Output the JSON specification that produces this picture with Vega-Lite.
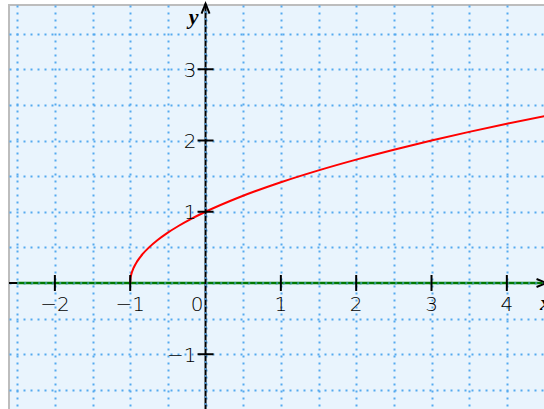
{
  "$schema": "https://vega.github.io/schema/vega-lite/v6.json",
  "width": 538,
  "height": 407,
  "padding": {"left": 9, "top": 5, "right": 0, "bottom": 0},
  "autosize": {"type": "none"},
  "background": "white",
  "config": {
    "view": {"fill": "#e9f4fd", "stroke": "#bdbdbd", "strokeWidth": 2},
    "text": {"font": "DejaVu Sans", "fontSize": 20, "fontWeight": 200, "color": "#000000"}
  },
  "datasets": {
    "xAxisLine": [{"x": -2.609, "x2": 4.533, "y": 0}],
    "xAxisGreen": [{"x": -2.5, "x2": 4.533, "y": 0}],
    "yAxisLine": [{"x": 0, "y": -1.811, "y2": 3.92}],
    "curve": [
      {"x": -1, "y": 0},
      {"x": -0.9975, "y": 0.05},
      {"x": -0.99, "y": 0.1},
      {"x": -0.9775, "y": 0.15},
      {"x": -0.96, "y": 0.2},
      {"x": -0.9375, "y": 0.25},
      {"x": -0.91, "y": 0.3},
      {"x": -0.84, "y": 0.4},
      {"x": -0.75, "y": 0.5},
      {"x": -0.64, "y": 0.6},
      {"x": -0.51, "y": 0.7},
      {"x": -0.36, "y": 0.8},
      {"x": -0.19, "y": 0.9},
      {"x": 0, "y": 1},
      {"x": 0.44, "y": 1.2},
      {"x": 1, "y": 1.414},
      {"x": 1.5, "y": 1.581},
      {"x": 2, "y": 1.732},
      {"x": 2.5, "y": 1.871},
      {"x": 3, "y": 2},
      {"x": 3.5, "y": 2.121},
      {"x": 4, "y": 2.236},
      {"x": 4.533, "y": 2.35}
    ],
    "xTicks": [
      {"x": -2, "y": 0, "label": "−2"},
      {"x": -1, "y": 0, "label": "−1"},
      {"x": 1, "y": 0, "label": "1"},
      {"x": 2, "y": 0, "label": "2"},
      {"x": 3, "y": 0, "label": "3"},
      {"x": 4, "y": 0, "label": "4"}
    ],
    "yTicks": [
      {"x": 0, "y": -1, "label": "−1"},
      {"x": 0, "y": 1, "label": "1"},
      {"x": 0, "y": 2, "label": "2"},
      {"x": 0, "y": 3, "label": "3"}
    ],
    "origin": [{"x": 0, "y": 0, "label": "0"}],
    "yArrow": [{"x": 0, "y": 3.922}],
    "xArrow": [{"x": 4.527, "y": 0}],
    "yName": [{"x": 0, "y": 3.635, "label": "y"}],
    "xName": [{"x": 4.44, "y": 0, "label": "x"}]
  },
  "encoding": {
    "x": {
      "field": "x",
      "type": "quantitative",
      "scale": {"domain": [-2.609, 4.533], "nice": false, "zero": false},
      "axis": {
        "orient": "bottom",
        "values": [-2.5, -2, -1.5, -1, -0.5, 0, 0.5, 1, 1.5, 2, 2.5, 3, 3.5, 4, 4.5],
        "grid": true,
        "gridColor": "#55a9ef",
        "gridDash": [2, 5],
        "gridWidth": 2,
        "labels": false,
        "ticks": false,
        "domain": false,
        "title": null
      }
    },
    "y": {
      "field": "y",
      "type": "quantitative",
      "scale": {"domain": [-1.811, 3.902], "nice": false, "zero": false},
      "axis": {
        "orient": "left",
        "values": [-1.5, -1, -0.5, 0, 0.5, 1, 1.5, 2, 2.5, 3, 3.5],
        "grid": true,
        "gridColor": "#55a9ef",
        "gridDash": [2, 5],
        "gridWidth": 2,
        "labels": false,
        "ticks": false,
        "domain": false,
        "title": null
      }
    }
  },
  "layer": [
    {
      "data": {"name": "xAxisLine"},
      "mark": {"type": "rule", "color": "black", "strokeWidth": 2},
      "encoding": {"x2": {"field": "x2"}}
    },
    {
      "data": {"name": "xAxisGreen"},
      "mark": {"type": "rule", "color": "#007a00", "strokeWidth": 2.5},
      "encoding": {"x2": {"field": "x2"}}
    },
    {
      "data": {"name": "curve"},
      "mark": {"type": "line", "color": "#ff0000", "strokeWidth": 2, "interpolate": "monotone"},
      "encoding": {"order": {"field": "x", "type": "quantitative"}}
    },
    {
      "data": {"name": "yAxisLine"},
      "mark": {"type": "rule", "color": "black", "strokeWidth": 2},
      "encoding": {"y2": {"field": "y2"}}
    },
    {
      "data": {"name": "yAxisLine"},
      "mark": {"type": "rule", "color": "#55a9ef", "strokeWidth": 2, "strokeDash": [2, 5], "opacity": 0.8},
      "encoding": {"y2": {"field": "y2"}}
    },
    {
      "data": {"name": "xAxisGreen"},
      "mark": {"type": "rule", "color": "#55a9ef", "strokeWidth": 2, "strokeDash": [2, 5], "opacity": 0.6},
      "encoding": {"x2": {"field": "x2"}}
    },
    {
      "data": {"name": "xTicks"},
      "mark": {"type": "tick", "orient": "vertical", "color": "black", "size": 16, "thickness": 2, "opacity": 1}
    },
    {
      "data": {"name": "yTicks"},
      "mark": {"type": "tick", "orient": "horizontal", "color": "black", "size": 16, "thickness": 2, "opacity": 1}
    },
    {
      "data": {"name": "yArrow"},
      "mark": {"type": "point", "shape": "M-0.4,1L0,0L0.4,1", "size": 400, "filled": false, "stroke": "black", "strokeWidth": 2, "opacity": 1}
    },
    {
      "data": {"name": "xArrow"},
      "mark": {"type": "point", "shape": "M-1,-0.4L0,0L-1,0.4", "size": 400, "filled": false, "stroke": "black", "strokeWidth": 2, "opacity": 1}
    },
    {
      "data": {"name": "xTicks"},
      "mark": {"type": "text", "align": "center", "baseline": "alphabetic", "dy": 28},
      "encoding": {"text": {"field": "label"}}
    },
    {
      "data": {"name": "origin"},
      "mark": {"type": "text", "align": "right", "baseline": "alphabetic", "dx": -2, "dy": 28},
      "encoding": {"text": {"field": "label"}}
    },
    {
      "data": {"name": "yTicks"},
      "mark": {"type": "text", "align": "right", "baseline": "alphabetic", "dx": -9, "dy": 7.5},
      "encoding": {"text": {"field": "label"}}
    },
    {
      "data": {"name": "yName"},
      "mark": {"type": "text", "align": "right", "baseline": "alphabetic", "dx": -7, "font": "Liberation Serif", "fontStyle": "italic", "fontWeight": "bold", "fontSize": 22, "color": "black"},
      "encoding": {"text": {"field": "label"}}
    },
    {
      "data": {"name": "xName"},
      "mark": {"type": "text", "align": "left", "baseline": "alphabetic", "dy": 27, "font": "Liberation Serif", "fontStyle": "italic", "fontWeight": "bold", "fontSize": 22, "color": "black"},
      "encoding": {"text": {"field": "label"}}
    }
  ]
}
